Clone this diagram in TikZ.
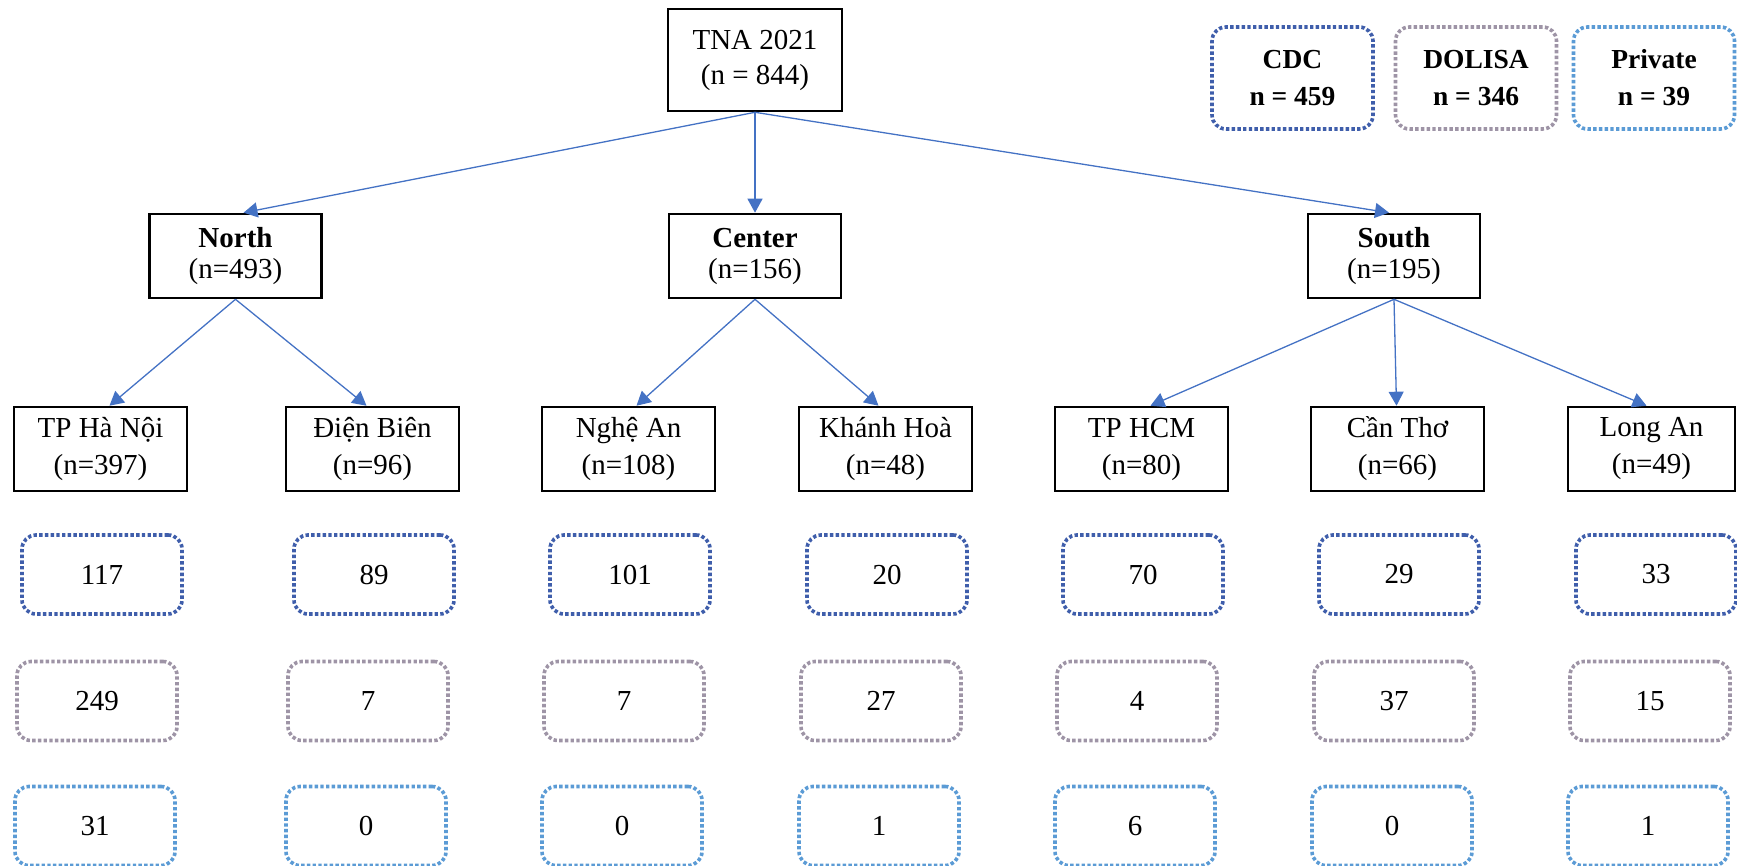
\documentclass[tikz,border=0pt]{standalone}
\usepackage{fontspec}
\setmainfont{Liberation Serif}
\usetikzlibrary{arrows.meta,calc}
\definecolor{arrowblue}{HTML}{4472C4}
\definecolor{cdcblue}{HTML}{3F5EAB}
\definecolor{dolisagrey}{HTML}{9E94A6}
\definecolor{privblue}{HTML}{5B9BD5}
\begin{document}
\begin{tikzpicture}[x=1pt,y=-1pt,
  every node/.style={font=\fontsize{29}{37}\selectfont, inner sep=0pt, align=center},
  blackbox/.style={draw=black, line width=2.6pt, minimum width=173pt, minimum height=84pt},
  regionbox/.style={blackbox, minimum width=172pt, font=\fontsize{29}{31}\selectfont},
  cnt/.style={rounded corners=14pt, line width=3.6pt, dash pattern=on 3.4pt off 2.3pt,
    minimum width=160pt, minimum height=79pt},
  cdcbox/.style={cnt, draw=cdcblue},
  dolbox/.style={cnt, draw=dolisagrey},
  privbox/.style={cnt, draw=privblue},
  legend/.style={minimum width=161pt, minimum height=102pt,
    font=\fontsize{27.5}{37}\selectfont\bfseries},
  arr/.style={draw=arrowblue, line width=1.3pt, -{Triangle[length=14pt,width=15pt]}}
]
\useasboundingbox (0,0) rectangle (1737,866);

% root
\node[blackbox, minimum width=174pt, minimum height=102pt, font=\fontsize{29}{35}\selectfont]
  (tna) at (755,60) {TNA 2021\\(n = 844)};

% legend
\node[legend, cdcbox, minimum width=161pt, minimum height=102pt] (lcdc) at (1292.5,78) {CDC\\n = 459};
\node[legend, dolbox, minimum width=161pt, minimum height=102pt] (ldol) at (1476,78) {DOLISA\\n = 346};
\node[legend, privbox, minimum width=161pt, minimum height=102pt] (lpriv) at (1654,78) {Private\\n = 39};

% regions
\node[regionbox] (north) at (235.5,256) {\textbf{North}\\(n=493)};
\node[regionbox] (center) at (755,256) {\textbf{Center}\\(n=156)};
\node[regionbox] (south) at (1394,256) {\textbf{South}\\(n=195)};

% provinces
\node[blackbox] (hanoi) at (100.5,449) {TP Hà Nội\\(n=397)};
\node[blackbox] (dienbien) at (372.5,449) {Điện Biên\\(n=96)};
\node[blackbox] (nghean) at (628.5,449) {Nghệ An\\(n=108)};
\node[blackbox] (khanhhoa) at (885.5,449) {Khánh Hoà\\(n=48)};
\node[blackbox] (hcm) at (1141.5,449) {TP HCM\\(n=80)};
\node[blackbox] (cantho) at (1397.5,449) {Cần Thơ\\(n=66)};
\node[blackbox, minimum width=167pt] (longan) at (1651.5,449) {Long An\\(n=49)};

% CDC counts
\node[cdcbox] (c1) at (102,574.5) {117};
\node[cdcbox] (c2) at (374,574.5) {89};
\node[cdcbox] (c3) at (630,574.5) {101};
\node[cdcbox] (c4) at (887,574.5) {20};
\node[cdcbox] (c5) at (1143,574.5) {70};
\node[cdcbox] (c6) at (1399,574.5) {29};
\node[cdcbox] (c7) at (1656,574.5) {33};

% DOLISA counts
\node[dolbox] (d1) at (97,701) {249};
\node[dolbox] (d2) at (368,701) {7};
\node[dolbox] (d3) at (624,701) {7};
\node[dolbox] (d4) at (881,701) {27};
\node[dolbox] (d5) at (1137,701) {4};
\node[dolbox] (d6) at (1394,701) {37};
\node[dolbox] (d7) at (1650,701) {15};

% Private counts
\node[privbox] (p1) at (95,826) {31};
\node[privbox] (p2) at (366,826) {0};
\node[privbox] (p3) at (622,826) {0};
\node[privbox] (p4) at (879,826) {1};
\node[privbox] (p5) at (1135,826) {6};
\node[privbox] (p6) at (1392,826) {0};
\node[privbox] (p7) at (1648,826) {1};

% connectors
\draw[arr] (tna.south) -- ([xshift=8pt]north.north);
\draw[arr] (tna.south) -- (center.north);
\draw[arr] (tna.south) -- ([xshift=-5pt]south.north);

\draw[arr] (north.south) -- ([xshift=9pt]hanoi.north);
\draw[arr] (north.south) -- ([xshift=-6pt]dienbien.north);
\draw[arr] (center.south) -- ([xshift=8pt]nghean.north);
\draw[arr] (center.south) -- ([xshift=-7pt]khanhhoa.north);
\draw[arr] (south.south) -- ([xshift=9pt]hcm.north);
\draw[arr] (south.south) -- ([xshift=-1pt]cantho.north);
\draw[arr] (south.south) -- ([xshift=-5pt]longan.north);
\end{tikzpicture}
\end{document}
